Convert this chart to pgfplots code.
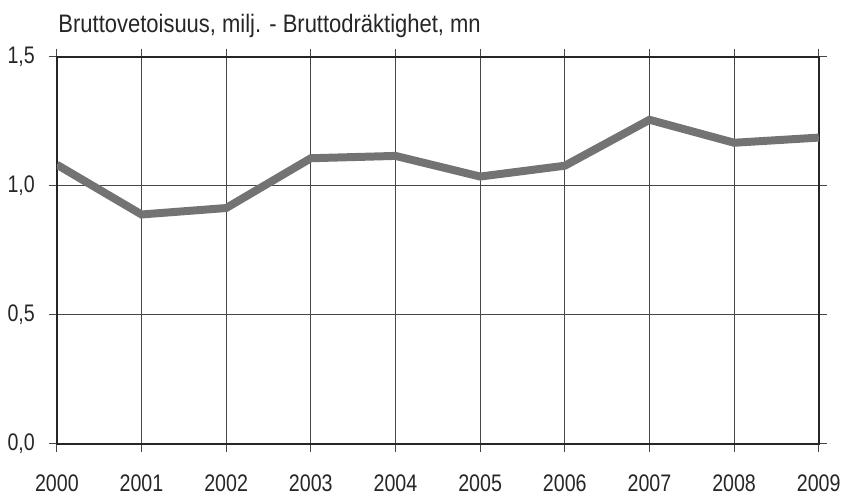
\documentclass[border=0pt]{standalone}
\usepackage{fontspec}
\setmainfont[FakeStretch=0.82]{Liberation Sans}
\newfontfamily\titlefont[FakeStretch=0.87]{Liberation Sans}
\usepackage{pgfplots}
\pgfplotsset{compat=1.18}
\definecolor{LineG}{RGB}{115,115,115}
\definecolor{GridG}{RGB}{70,70,70}
\begin{document}
\begin{tikzpicture}
\begin{axis}[
  scale only axis, width=573pt, height=291pt,
  xmin=2000, xmax=2009, ymin=0, ymax=1.5,
  xtick={2000,...,2009}, ytick={0,0.5,1,1.5},
  xticklabel style={/pgf/number format/1000 sep={}},
  yticklabel style={/pgf/number format/.cd, use comma, fixed, fixed zerofill, precision=1},
  /pgf/number format/assume math mode=true,
  ticklabel style={font=\fontsize{18}{21}\selectfont, text=black!85},
  tick align=outside, major tick length=6pt,
  tick style={GridG, line width=0.8pt},
  grid=major, grid style={GridG, line width=0.8pt},
  axis line style={black!85, line width=1.5pt},
  xticklabel shift=14pt, yticklabel shift=7pt,
  clip mode=individual,
]
\addplot[LineG, line width=6pt, line join=miter] coordinates {
  (2000,1.082)(2001,0.889)(2002,0.914)(2003,1.107)(2004,1.116)
  (2005,1.036)(2006,1.078)(2007,1.256)(2008,1.167)(2009,1.187)};
\node[anchor=base west, font=\titlefont\fontsize{19}{22}\selectfont, text=black!85, inner sep=0pt]
  at (rel axis cs:0,1) [yshift=18pt, xshift=1pt] {Bruttovetoisuus, milj. - Bruttodräktighet, mn};
\end{axis}
\path[use as bounding box] (-42.75pt,-35.25pt) rectangle (591pt,333.75pt);
\end{tikzpicture}
\end{document}
